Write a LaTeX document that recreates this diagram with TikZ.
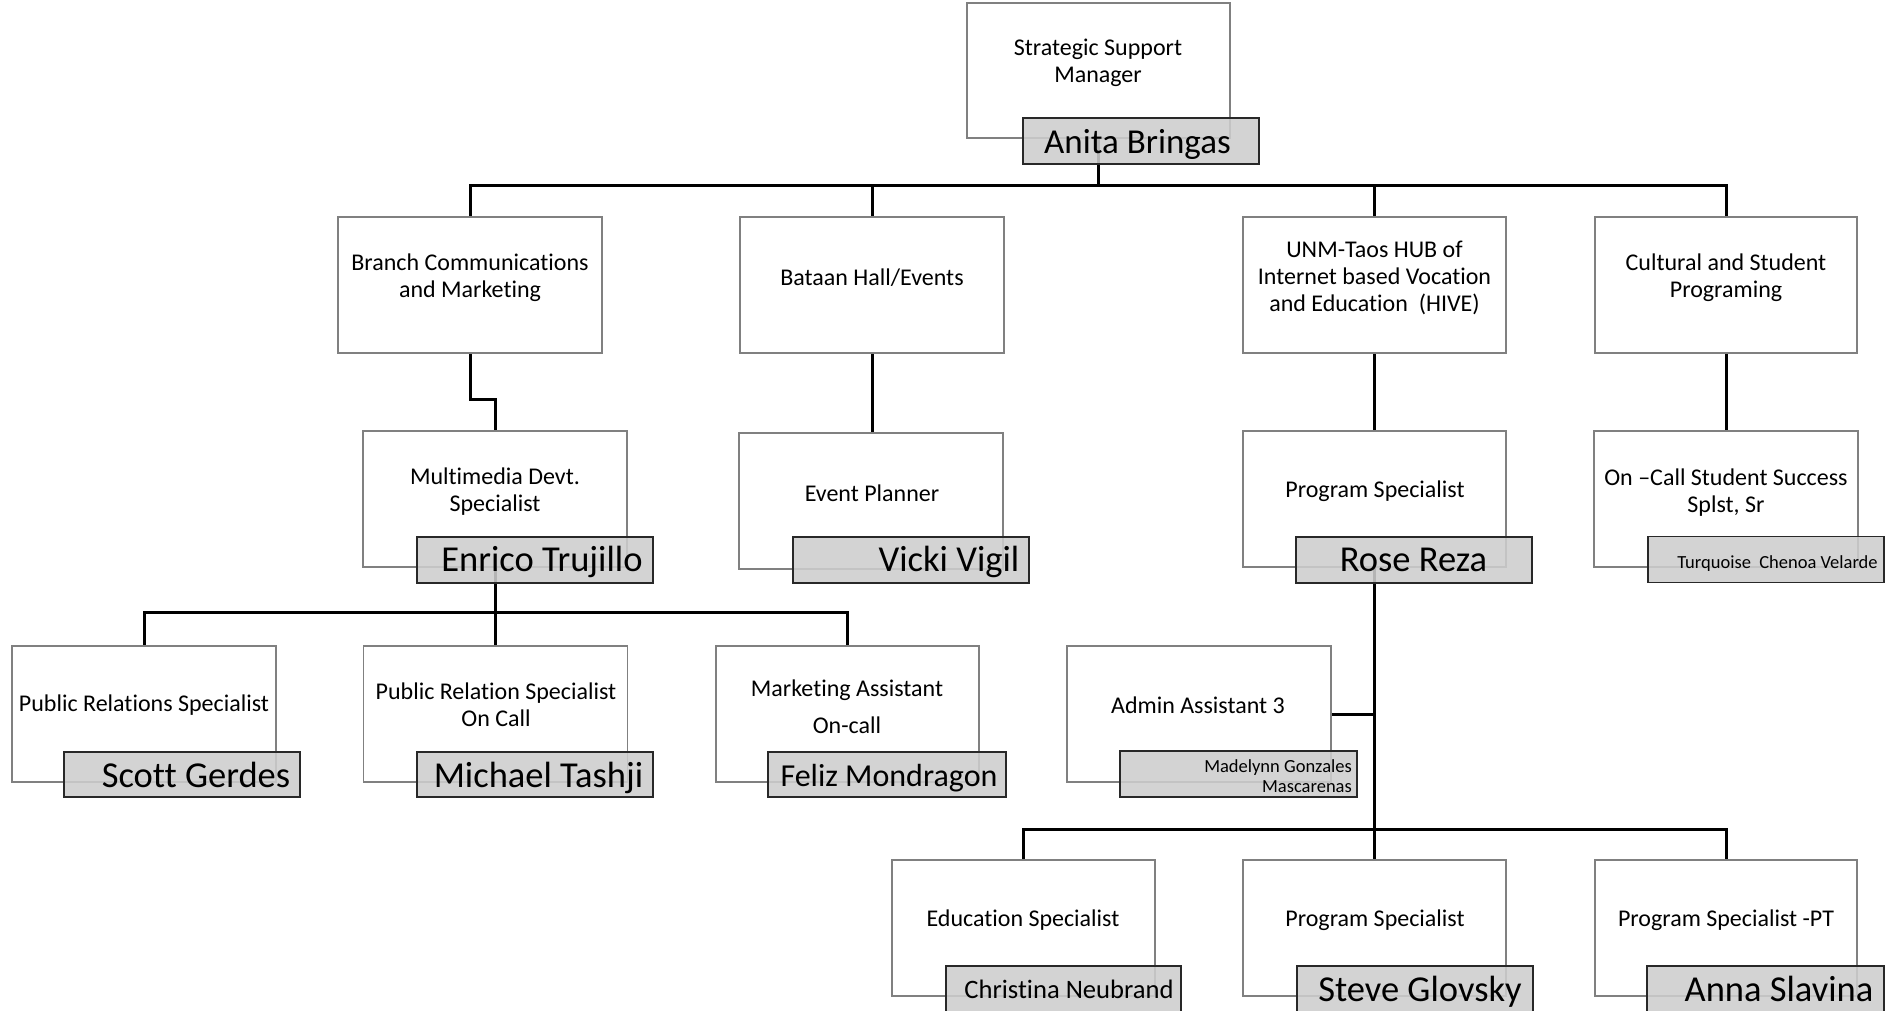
\documentclass[tikz,border=0pt]{standalone}
\usepackage{fontspec}
\setmainfont{Carlito}[Ligatures={NoCommon}]
\usetikzlibrary{backgrounds}
\definecolor{namefill}{RGB}{205,205,205}
\definecolor{boxline}{RGB}{128,128,128}
\definecolor{nameline}{RGB}{40,40,40}
\tikzset{
 tbox/.style={draw=boxline, line width=1.3pt, minimum width=264pt, minimum height=136pt, inner sep=0pt},
 nbox/.style={draw=nameline, line width=1.8pt, fill=namefill, fill opacity=0.88, minimum width=236pt, minimum height=46pt, inner sep=0pt},
 ttext/.style={align=center, font=\fontsize{24}{27}\selectfont, inner sep=0pt, yshift=-2.5pt},
 ntext/.style={anchor=base, font=\fontsize{36.5}{40}\selectfont, inner sep=0pt, yshift=-1.5pt},
 conn/.style={line width=3pt, black},
}
\begin{document}
\begin{tikzpicture}[x=1pt,y=-1pt]
\useasboundingbox (0,0) rectangle (1900,1010);
% title boxes
\node[tbox, minimum width=263pt, minimum height=135pt] (t0) at (1098.5,70.5) {};
\node[tbox] (a1) at (470,285) {};
\node[tbox] (a2) at (872,285) {};
\node[tbox, minimum width=263pt] (a3) at (1374.5,285) {};
\node[tbox, minimum width=262pt] (a4) at (1726,285) {};
\node[tbox] (b1) at (495,499) {};
\node[tbox] (b2) at (871,501) {};
\node[tbox, minimum width=263pt] (b3) at (1374.5,499) {};
\node[tbox] (b4) at (1726,499) {};
\node[tbox] (c1) at (144,714) {};
\node[tbox] (c2) at (495.5,714) {};
\node[tbox, minimum width=263pt] (c3) at (847.5,714) {};
\node[tbox] (d1) at (1199,714) {};
\node[tbox, minimum width=263pt] (e1) at (1023.5,928) {};
\node[tbox, minimum width=263pt] (e2) at (1374.5,928) {};
\node[tbox, minimum width=262pt] (e3) at (1726,928) {};
% title texts
\node[ttext] (t0t) at (1098,60) {Strategic Support\\Manager};
\node[ttext] (a1t) at (470,275) {Branch Communications\\and Marketing};
\node[ttext] (a2t) at (872,275) {Bataan Hall/Events};
\node[ttext] (a3t) at (1374.5,275) {UNM-Taos HUB of\\Internet based Vocation\\and Education\ \ (HIVE)};
\node[ttext] (a4t) at (1726,275) {Cultural and Student\\Programing};
\node[ttext] (b1t) at (495,489.5) {Multimedia Devt.\\Specialist};
\node[ttext] (b2t) at (872,491) {Event Planner};
\node[ttext] (b3t) at (1375,489) {Program Specialist};
\node[ttext] (b4t) at (1726,490) {On –Call Student Success\\Splst, Sr};
\node[ttext] (c1t) at (144,703) {Public Relations Specialist};
\node[ttext] (c2t) at (496,702.5) {Public Relation Specialist\\On Call};
\node[ttext, font=\fontsize{24}{37}\selectfont] (c3t) at (847,704.5) {Marketing Assistant\\On-call};
\node[ttext] (d1t) at (1198,703) {Admin Assistant 3};
\node[ttext] (e1t) at (1023,918) {Education Specialist};
\node[ttext] (e2t) at (1375,918) {Program Specialist};
\node[ttext] (e3t) at (1726,918) {Program Specialist -PT};
% name boxes
\node[nbox] (n0) at (1141,141) {};
\node[nbox] (n1) at (535,560) {};
\node[nbox] (n2) at (911,560) {};
\node[nbox] (n3) at (1414,560) {};
\node[nbox] (n4) at (1766,559.5) {};
\node[nbox, minimum height=45pt] (m1) at (182,774.5) {};
\node[nbox, minimum height=45pt] (m2) at (535,774.5) {};
\node[nbox, minimum width=238pt, minimum height=45pt] (m3) at (887,774.5) {};
\node[nbox, minimum width=237pt] (dn) at (1238.5,774) {};
\node[nbox, minimum width=235pt] (f1) at (1063.5,989) {};
\node[nbox] (f2) at (1415,989) {};
\node[nbox, minimum width=237pt] (f3) at (1765.5,989) {};
% name texts
\node[ntext, font=\fontsize{35}{40}\selectfont] (n0t) at (1137.5,152) {Anita Bringas};
\node[ntext] (n1t) at (542,570) {Enrico Trujillo};
\node[ntext] (n2t) at (949,570) {Vicki Vigil};
\node[ntext] (n3t) at (1413.5,570) {Rose Reza};
\node[ntext, font=\fontsize{18.5}{20}\selectfont] (n4t) at (1777.5,567) {Turquoise\ \ Chenoa Velarde};
\node[ntext] (m1t) at (196,786) {Scott Gerdes};
\node[ntext] (m2t) at (538.5,786) {Michael Tashji};
\node[ntext, font=\fontsize{32}{36}\selectfont] (m3t) at (889,785) {Feliz Mondragon};
\node[ntext, anchor=base east, font=\fontsize{18.5}{20}\selectfont] (dnt1) at (1352,771) {Madelynn Gonzales};
\node[ntext, anchor=base east, font=\fontsize{18.5}{20}\selectfont] (dnt2) at (1352,791) {Mascarenas};
\node[ntext, font=\fontsize{26.6}{30}\selectfont] (f1t) at (1069,997) {Christina Neubrand};
\node[ntext] (f2t) at (1420,1000) {Steve Glovsky};
\node[ntext] (f3t) at (1779,1000) {Anna Slavina};
% connectors
\begin{scope}[on background layer]
\fill[white] (0,0) rectangle (1900,1010);
\coordinate (j0) at (1098.5,185);
\draw[conn] (t0.south) -- (j0);
\draw[conn] (a1.north) |- (j0) -| (a4.north);
\draw[conn] (a2.north) -- (a2.north |- j0);
\draw[conn] (a3.north) -- (a3.north |- j0);
\coordinate (k1) at (482,399);
\draw[conn] (a1.south) |- (k1) -| (b1.north);
\draw[conn] (a2.south) -- (a2.south |- b2.north);
\draw[conn] (a3.south) -- (b3.north);
\draw[conn] (a4.south) -- (b4.north);
\coordinate (j1) at (495,612);
\draw[conn] (b1.south) -- (j1);
\draw[conn] (c1.north) |- (j1) -| (c3.north);
\draw[conn] (c2.north) -- (c2.north |- j1);
\coordinate (j2) at (1374.5,829);
\draw[conn] (b3.south) -- (j2);
\draw[conn] (e1.north) |- (j2) -| (e3.north);
\draw[conn] (e2.north) -- (e2.north |- j2);
\draw[conn] (d1.east) -- (d1.east -| j2);
\end{scope}
\end{tikzpicture}
\end{document}
